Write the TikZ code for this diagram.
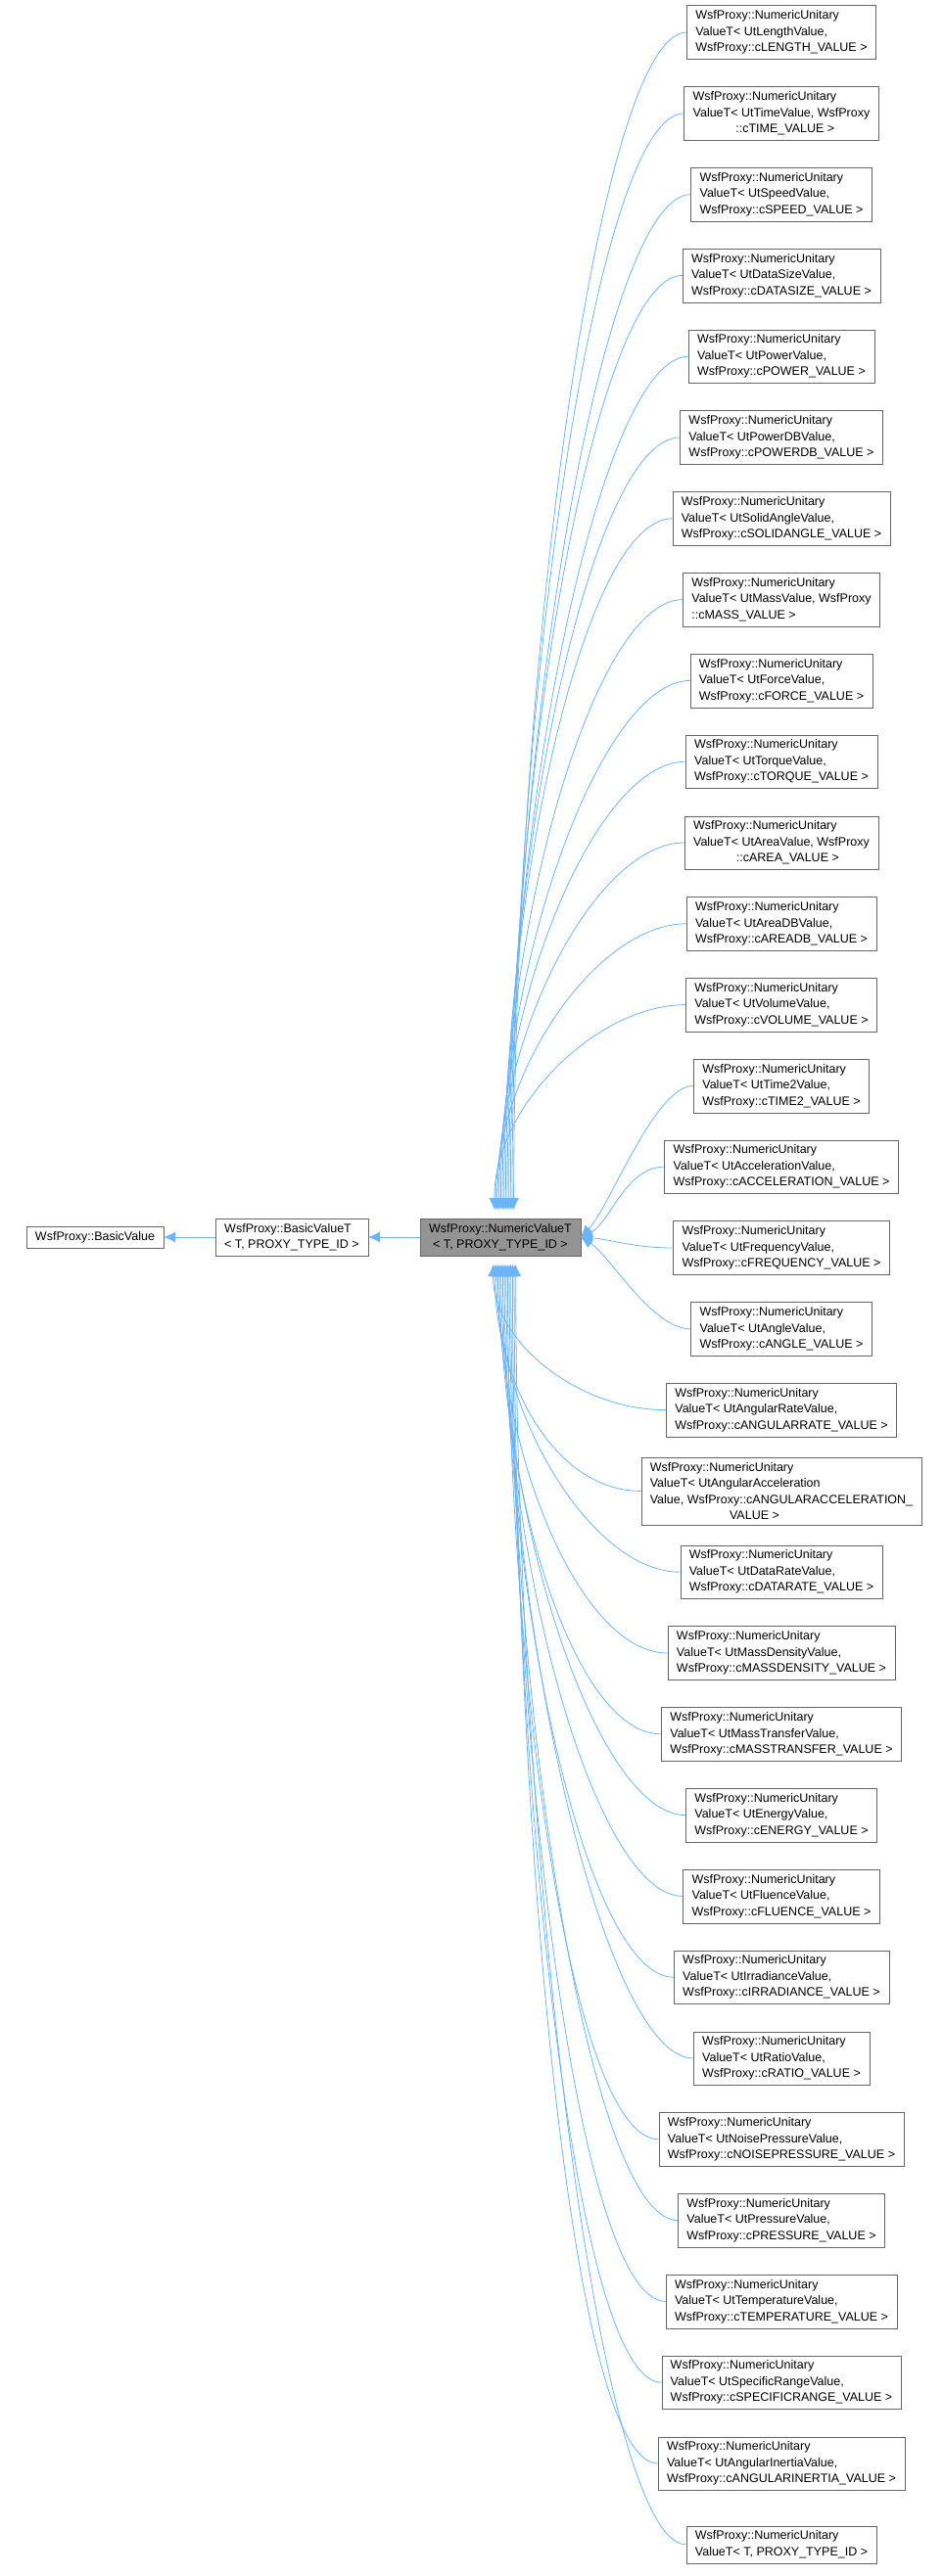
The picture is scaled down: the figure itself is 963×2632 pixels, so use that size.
\documentclass[tikz,border=0pt]{standalone}
\usepackage{fontspec}
\setmainfont{Liberation Sans}
\usetikzlibrary{arrows.meta}
\definecolor{edgeblue}{HTML}{6CB4F8}
\tikzset{
	cls node/.style={rectangle,draw=black!60,fill=white,align=left,font=\fontsize{12.5}{16.5}\selectfont,inner xsep=9pt,inner ysep=5pt},
	cur node/.style={cls node,fill=black!42,align=center},
	edge/.style={draw=edgeblue,line width=0.8pt,-{Latex[length=12pt,width=11pt]}}
}
\newcommand{\nutext}[2]{WsfProxy::NumericUnitary\\ValueT< Ut#1Value,\\ WsfProxy::c#2\_VALUE >}

\begin{document}
\begin{tikzpicture}[x=1pt,y=-1pt]
	\useasboundingbox (0,0) rectangle (963,2632);
	\node [cls node] (bv) at (97,1264) {WsfProxy::BasicValue};
	\node [cls node] (bvt) at (298,1264) {WsfProxy::BasicValueT\\< T, PROXY\_TYPE\_ID >};
	\node [cur node] (nv) at (511,1264) {WsfProxy::NumericValueT\\< T, PROXY\_TYPE\_ID >};
	\draw [edge] (bvt) -- (bv);
	\draw [edge] (nv) -- (bvt);
	% derived classes
	\foreach \i/\txt in {
		0/{\nutext{Length}{LENGTH}},
		1/{WsfProxy::NumericUnitary\\ValueT< UtTimeValue, WsfProxy\\\hspace*{3.5em}::cTIME\_VALUE >},
		2/{\nutext{Speed}{SPEED}},
		3/{\nutext{DataSize}{DATASIZE}},
		4/{\nutext{Power}{POWER}},
		5/{\nutext{PowerDB}{POWERDB}},
		6/{\nutext{SolidAngle}{SOLIDANGLE}},
		7/{WsfProxy::NumericUnitary\\ValueT< UtMassValue, WsfProxy\\::cMASS\_VALUE >},
		8/{\nutext{Force}{FORCE}},
		9/{\nutext{Torque}{TORQUE}},
		10/{WsfProxy::NumericUnitary\\ValueT< UtAreaValue, WsfProxy\\\hspace*{3.5em}::cAREA\_VALUE >},
		11/{\nutext{AreaDB}{AREADB}},
		12/{\nutext{Volume}{VOLUME}},
		13/{\nutext{Time2}{TIME2}},
		14/{\nutext{Acceleration}{ACCELERATION}},
		15/{\nutext{Frequency}{FREQUENCY}},
		16/{\nutext{Angle}{ANGLE}},
		17/{\nutext{AngularRate}{ANGULARRATE}},
		18/{WsfProxy::NumericUnitary\\ValueT< UtAngularAcceleration\\Value, WsfProxy::cANGULARACCELERATION\_\\\hspace*{6.5em}VALUE >},
		19/{\nutext{DataRate}{DATARATE}},
		20/{\nutext{MassDensity}{MASSDENSITY}},
		21/{\nutext{MassTransfer}{MASSTRANSFER}},
		22/{\nutext{Energy}{ENERGY}},
		23/{\nutext{Fluence}{FLUENCE}},
		24/{\nutext{Irradiance}{IRRADIANCE}},
		25/{\nutext{Ratio}{RATIO}},
		26/{\nutext{NoisePressure}{NOISEPRESSURE}},
		27/{\nutext{Pressure}{PRESSURE}},
		28/{\nutext{Temperature}{TEMPERATURE}},
		29/{\nutext{SpecificRange}{SPECIFICRANGE}},
		30/{\nutext{AngularInertia}{ANGULARINERTIA}},
		31/{WsfProxy::NumericUnitary\\ValueT< T, PROXY\_TYPE\_ID >}}
	{
		\node [cls node] (d\i) at (798,33+82.8*\i) {\txt};
		\pgfmathtruncatemacro{\dy}{33+82.8*\i-1264}
		\pgfmathsetmacro{\tx}{500+0.02*abs(\dy)}
		\pgfmathsetmacro{\cy}{0.45*\dy}
		\ifnum\dy<-160
			\draw [edge] (d\i.west) .. controls +(-90,0) and (\tx,1236+\cy) .. (\tx,1236);
		\else\ifnum\dy>160
			\draw [edge] (d\i.west) .. controls +(-90,0) and (\tx,1292+\cy) .. (\tx,1292);
		\else
			\draw [edge] (d\i.west) .. controls +(-40,0) and +(30,0.2*\dy) .. (nv.east);
		\fi\fi
	}
\end{tikzpicture}
\end{document}
